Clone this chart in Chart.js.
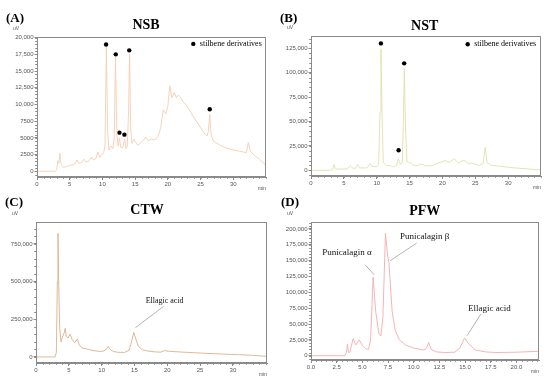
<!DOCTYPE html>
<html><head><meta charset="utf-8">
<script src="https://cdn.jsdelivr.net/npm/chart.js@4.4.1/dist/chart.umd.min.js"></script>
<style>
html,body{margin:0;padding:0;background:#fff;}
#wrap{position:relative;width:550px;height:381px;overflow:hidden;background:#fff;}
canvas{position:absolute;}
.t{position:absolute;font-family:"Liberation Serif","Times New Roman",serif;color:#000;white-space:nowrap;line-height:1;font-weight:bold;}
</style></head><body>
<div id="wrap">
<canvas id="cA" width="275" height="190" style="left:0;top:0;width:275px;height:190px"></canvas>
<canvas id="cB" width="275" height="190" style="left:275px;top:0;width:275px;height:190px"></canvas>
<canvas id="cC" width="275" height="191" style="left:0;top:190px;width:275px;height:191px"></canvas>
<canvas id="cD" width="275" height="191" style="left:275px;top:190px;width:275px;height:191px"></canvas>
</div>
<script>
// ---------- DATA ----------
// (A) NSB
const nsbTime   = [0,2.8,3.0,3.2,3.35,3.5,3.6,3.8,4.0,4.5,5.0,5.5,5.8,6.1,6.4,6.8,7.2,7.5,7.9,8.3,8.6,9.0,9.3,9.6,9.9,10.2,10.4,10.6,10.8,11.0,11.3,11.6,11.8,12.0,12.2,12.4,12.6,12.8,13.0,13.2,13.4,13.6,13.8,14.0,14.15,14.3,14.5,14.8,15.1,15.4,15.8,16.2,16.6,17.0,17.5,18.0,18.5,18.9,19.3,19.7,20.0,20.3,20.6,21.0,21.3,21.6,22.0,22.4,22.8,23.2,23.6,24.0,24.5,25.0,25.5,26.0,26.2,26.4,26.6,26.9,27.5,28.0,29.0,30.0,31.0,32.0,32.3,32.6,33.0,34.0,35.0];
const nsbSignal = [0,0,300,1600,1200,2700,1500,900,600,700,900,1000,1100,1700,1200,1300,1800,1400,1500,2100,1700,1900,2900,2100,2400,2800,4000,18600,6000,3200,3800,3400,5000,17100,5500,3800,5000,3600,3500,3900,4800,3400,3700,9000,17600,7000,4200,4800,4300,3900,4200,4600,5100,4600,4800,4700,5200,6500,9200,8600,9800,12800,11000,11800,11000,11400,11000,10300,10000,9300,8700,8000,7300,6500,5800,5300,6000,8500,5600,4600,4200,3900,3500,3200,3000,2800,4300,3000,2600,1800,900];
const nsbMarkTime   = [10.56,12.04,12.6,13.36,14.1,26.4];
const nsbMarkSignal = [18970,17500,5790,5490,18100,9280];
const nsbYTicks  = [0,2500,5000,7500,10000,12500,15000,17500,20000];
const nsbYLabels = ['0','2500','5000','7500','10,000','12,500','15,000','17,500','20,000'];

// (B) NST
const nstTime   = [0,3.0,3.3,3.5,3.7,4.5,5.5,6.0,6.3,6.8,7.1,7.4,8.5,9.0,9.3,10.0,10.3,10.5,10.65,10.8,11.0,11.5,12.0,12.5,13.0,13.3,13.6,13.9,14.05,14.2,14.35,14.6,15.0,15.5,16.0,16.8,17.5,18.5,19.3,19.8,20.4,21.0,21.8,22.4,23.3,24.0,24.5,25.5,26.2,26.5,26.8,27.5,29.0,31.0,33.0,35.0];
const nstSignal = [0,0,800,6000,1500,1200,1500,4500,2500,2000,6000,2500,2500,7000,4000,3500,6000,60000,124000,60000,8000,4500,5000,3500,5000,12000,6000,8000,50000,104000,50000,9000,8000,5500,4500,6500,4500,5000,7500,8500,10000,8000,12000,7500,10500,6500,7500,5000,7000,23500,8000,5000,4000,2500,1500,200];
const nstMarkTime   = [10.64,13.33,14.18];
const nstMarkSignal = [130000,20500,109600];
const nstYTicks  = [0,25000,50000,75000,100000,125000];
const nstYLabels = ['0','25,000','50,000','75,000','100,000','125,000'];

// (C) CTW
const ctwTime   = [0,2.9,3.1,3.25,3.35,3.45,3.6,3.8,4.0,4.3,4.45,4.6,4.9,5.2,5.5,5.9,6.3,6.6,7.0,8.0,9.0,10.0,10.6,11.0,11.3,11.8,12.5,13.5,14.2,14.6,14.9,15.2,15.6,16.2,17.0,18.0,19.0,19.6,20.2,22.0,25.0,28.0,31.0,33.0,35.2];
const ctwSignal = [0,0,30000,500000,820000,500000,200000,100000,130000,160000,190000,140000,125000,152000,115000,95000,120000,80000,60000,50000,40000,36000,45000,70000,50000,36000,31000,30000,45000,110000,163000,120000,70000,48000,40000,34000,32000,42000,38000,33000,26000,20000,15000,11000,4000];
const ctwYTicks  = [0,250000,500000,750000];
const ctwYLabels = ['0','250,000','500,000','750,000'];

// (D) PFW
const pfwTime   = [0,3.3,3.45,3.55,3.65,3.8,4.1,4.35,4.7,5.0,5.3,5.6,5.8,6.05,6.3,6.6,6.8,7.0,7.25,7.45,7.6,7.9,8.2,8.6,9.2,10.0,11.0,11.25,11.45,11.7,12.2,13.0,14.0,14.5,14.95,15.4,16.0,17.0,18.0,20.0,22.2];
const pfwSignal = [0,0,5000,18000,5000,6000,27000,17000,25000,16000,11000,10000,25000,124000,70000,35000,31000,60000,193000,160000,145000,70000,40000,25000,17000,12000,9000,12000,21000,10000,6000,5000,5500,12000,28000,18000,9000,6000,5000,5500,7000];
const pfwYTicks  = [0,25000,50000,75000,100000,125000,150000,175000,200000];
const pfwYLabels = ['0','25,000','50,000','75,000','100,000','125,000','150,000','175,000','200,000'];

// x ticks
const minTicks  = [0,5,10,15,20,25,30];
const minLabels = ['0','5','10','15','20','25','30'];
const pfwXTicks  = [0,2.5,5,7.5,10,12.5,15,17.5,20];
const pfwXLabels = ['0.0','2.5','5.0','7.5','10.0','12.5','15.0','17.5','20.0'];

// ---------- RENDER ----------
const AXIS = '#8a8a8a', TXT = '#555';
const overlay = {
  id:'overlay',
  afterDraw(chart){
    const o = chart.options.plugins.overlay;
    const {ctx, chartArea:a, scales:{x,y}} = chart;
    ctx.save();
    ctx.strokeStyle = AXIS; ctx.lineWidth = 1;
    ctx.strokeRect(Math.round(a.left)+0.5, Math.round(a.top)+0.5, Math.round(a.right-a.left)-1, Math.round(a.bottom-a.top)-1);
    ctx.beginPath();
    for(let v=x.min; v<=x.max+1e-9; v+=o.xMinor){
      const px = Math.round(x.getPixelForValue(v))+0.5;
      ctx.moveTo(px, a.bottom); ctx.lineTo(px, a.bottom+1.8);
    }
    const y0 = Math.ceil(y.min/o.yMinor)*o.yMinor;
    for(let v=y0; v<=y.max; v+=o.yMinor){
      const py = Math.round(y.getPixelForValue(v))+0.5;
      ctx.moveTo(a.left, py); ctx.lineTo(a.left-1.8, py);
    }
    ctx.stroke();
    ctx.fillStyle = TXT; ctx.font = '5px "Liberation Sans", Arial, sans-serif';
    ctx.textAlign='center'; ctx.textBaseline='middle';
    ctx.fillText('uV', a.left-21, a.top-8);
    ctx.fillText('min', a.right-4, a.bottom+11.5);
    if(o.legend){
      ctx.fillStyle='#000';
      ctx.beginPath(); ctx.arc(a.right+o.legend.dx, a.top+o.legend.dy, 2.2, 0, Math.PI*2); ctx.fill();
      ctx.font = '8px "Liberation Serif", "Times New Roman", serif';
      ctx.textAlign='left';
      ctx.fillText('stilbene derivatives', a.right+o.legend.dx+6.5, a.top+o.legend.dy);
    }
    (o.notes||[]).forEach(n=>{
      ctx.strokeStyle='#a0a0a0'; ctx.lineWidth=0.8;
      ctx.beginPath();
      ctx.moveTo(x.getPixelForValue(n.from[0]), y.getPixelForValue(n.from[1]));
      ctx.lineTo(x.getPixelForValue(n.to[0]), y.getPixelForValue(n.to[1]));
      ctx.stroke();
      ctx.fillStyle='#111';
      ctx.font = n.size+'px "Liberation Serif", "Times New Roman", serif';
      ctx.textAlign='center'; ctx.textBaseline='middle';
      ctx.fillText(n.text, x.getPixelForValue(n.at[0]), y.getPixelForValue(n.at[1]));
    });
    ctx.restore();
  }
};

function panel(id, o){
  const datasets = [{
    data: o.time.map((t,i)=>({x:t, y:o.signal[i]})),
    borderColor:o.color, borderWidth:0.9, pointRadius:0, tension:0, fill:false
  }];
  if(o.markTime){
    datasets.push({type:'scatter', data:o.markTime.map((t,i)=>({x:t,y:o.markSignal[i]})),
      pointRadius:2.2, backgroundColor:'#000', borderWidth:0, showLine:false});
  }
  const tickFont = {family:'"Liberation Sans", Arial, sans-serif', size:6};
  new Chart(document.getElementById(id), {
    type:'line',
    data:{datasets},
    options:{
      responsive:false, animation:false, devicePixelRatio:1,
      layout:{padding:{left:0, top:o.top, right:o.right, bottom:0}},
      plugins:{legend:{display:false}, tooltip:{enabled:false}, overlay:o},
      scales:{
        x:{type:'linear', min:0, max:o.xMax,
          afterBuildTicks:s=>{ s.ticks = o.xTicks.map(v=>({value:v})); },
          afterFit:s=>{ s.height = o.bottom; },
          ticks:{autoSkip:false, maxRotation:0, padding:1, color:TXT, font:tickFont,
                 callback:(v,i)=>o.xLabels[i]},
          grid:{drawOnChartArea:false, tickLength:3, color:AXIS},
          border:{color:AXIS, width:1}},
        y:{type:'linear', min:o.yMin, max:o.yMax,
          afterBuildTicks:s=>{ s.ticks = o.yTicks.map(v=>({value:v})); },
          afterFit:s=>{ s.width = o.left; },
          ticks:{autoSkip:false, padding:1, color:TXT, font:tickFont,
                 callback:(v,i)=>o.yLabels[i]},
          grid:{drawOnChartArea:false, tickLength:2.5, color:AXIS},
          border:{color:AXIS, width:1}}
      }
    },
    plugins:[overlay]
  });
}

panel('cA', {time:nsbTime, signal:nsbSignal, markTime:nsbMarkTime, markSignal:nsbMarkSignal,
  color:'#f6cdb0', xMax:35, yMin:-850, yMax:20100, xTicks:minTicks, xLabels:minLabels,
  yTicks:nsbYTicks, yLabels:nsbYLabels, left:37, top:37, right:9, bottom:13,
  xMinor:1, yMinor:500, legend:{dx:-72.7, dy:6.9}});
panel('cB', {time:nstTime, signal:nstSignal, markTime:nstMarkTime, markSignal:nstMarkSignal,
  color:'#dfe1aa', xMax:35, yMin:-5800, yMax:137600, xTicks:minTicks, xLabels:minLabels,
  yTicks:nstYTicks, yLabels:nstYLabels, left:36, top:36, right:9, bottom:14,
  xMinor:1, yMinor:5000, legend:{dx:-73.3, dy:8.3}});
panel('cC', {time:ctwTime, signal:ctwSignal,
  color:'#ddb08a', xMax:35.2, yMin:-40000, yMax:895000, xTicks:minTicks, xLabels:minLabels,
  yTicks:ctwYTicks, yLabels:ctwYLabels, left:36, top:32, right:8, bottom:18,
  xMinor:1, yMinor:50000,
  notes:[{text:'Ellagic acid', size:8, at:[19.6,373000], from:[19.44,335500], to:[15.15,194300]}]});
panel('cD', {time:pfwTime, signal:pfwSignal,
  color:'#f4adad', xMax:22.2, yMin:-6800, yMax:211000, xTicks:pfwXTicks, xLabels:pfwXLabels,
  yTicks:pfwYTicks, yLabels:pfwYLabels, left:36, top:32, right:11, bottom:21,
  xMinor:0.5, yMinor:5000,
  notes:[{text:'Punicalagin \u03b1', size:9, at:[3.5,163000], from:[5.27,143500], to:[6.15,127700]},
         {text:'Punicalagin \u03b2', size:9, at:[11.07,187300], from:[10.29,177800], to:[7.70,149800]},
         {text:'Ellagic acid', size:9, at:[17.36,73900], from:[16.53,65500], to:[15.2,31600]}]});

// ---------- TITLES ----------
const titles = [
  ['(A)',6,17.2,13,false],['NSB',146,25.3,14,true],
  ['(B)',280,17.2,13,false],['NST',424.7,25.5,14,true],
  ['(C)',5,201,13,false],['CTW',147,210,14,true],
  ['(D)',281,201.3,13,false],['PFW',424.7,211,14,true]
];
const wrap = document.getElementById('wrap');
titles.forEach(([s,x,y,size,center])=>{
  const d = document.createElement('div');
  d.className='t'; d.textContent=s; d.style.fontSize=size+'px';
  d.style.left=x+'px'; d.style.top=y+'px';
  d.style.transform = center ? 'translate(-50%,-50%)' : 'translate(0,-50%)';
  wrap.appendChild(d);
});
</script>
</body></html>
